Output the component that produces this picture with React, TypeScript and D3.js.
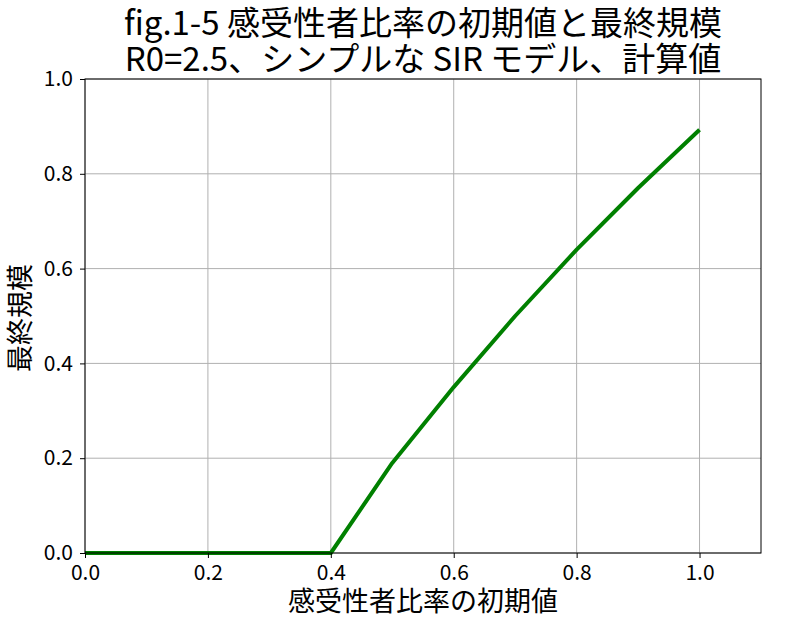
import React, { useEffect, useRef } from 'react';
import * as d3 from 'd3';

// initial susceptible ratio vs final size (R0 = 2.5)
const initialRatio = [0.0, 0.1, 0.2, 0.3, 0.4, 0.5, 0.6, 0.7, 0.8, 0.9, 1.0];
const finalSize = [0.0, 0.0, 0.0, 0.0, 0.0, 0.19, 0.35, 0.5, 0.64, 0.77, 0.893];
const xTicks = [0.0, 0.2, 0.4, 0.6, 0.8, 1.0];
const yTicks = [0.0, 0.2, 0.4, 0.6, 0.8, 1.0];
const titleLines = ['fig.1-5 感受性者比率の初期値と最終規模', 'R0=2.5、シンプルな SIR モデル、計算値'];
const xLabel = '感受性者比率の初期値';
const yLabel = '最終規模';

const FONT = '"Noto Sans CJK JP", "Noto Sans", sans-serif';

const App: React.FC = () => {
  const svgRef = useRef<SVGSVGElement>(null);
  const width = 786;
  const height = 625;
  const margin = { top: 79, right: 25, bottom: 72, left: 85 };
  const chartWidth = width - margin.left - margin.right;
  const chartHeight = height - margin.top - margin.bottom;

  useEffect(() => {
    if (!svgRef.current) return;
    const svg = d3.select(svgRef.current);
    svg.selectAll('*').remove();

    const g = svg.append('g').attr('transform', `translate(${margin.left},${margin.top})`);

    const xScale = d3.scaleLinear().domain([0, 1.1]).range([0, chartWidth]);
    const yScale = d3.scaleLinear().domain([0, 1]).range([chartHeight, 0]);

    // grid
    g.append('g')
      .selectAll('line')
      .data(xTicks)
      .enter()
      .append('line')
      .attr('x1', d => xScale(d))
      .attr('x2', d => xScale(d))
      .attr('y1', 0)
      .attr('y2', chartHeight)
      .attr('stroke', '#b0b0b0')
      .attr('stroke-width', 1);

    g.append('g')
      .selectAll('line')
      .data(yTicks)
      .enter()
      .append('line')
      .attr('x1', 0)
      .attr('x2', chartWidth)
      .attr('y1', d => yScale(d))
      .attr('y2', d => yScale(d))
      .attr('stroke', '#b0b0b0')
      .attr('stroke-width', 1);

    // line
    const data = initialRatio.map((x, i) => ({ x, y: finalSize[i] }));
    const line = d3
      .line<{ x: number; y: number }>()
      .x(d => xScale(d.x))
      .y(d => yScale(d.y));

    g.append('path')
      .datum(data)
      .attr('fill', 'none')
      .attr('stroke', 'green')
      .attr('stroke-width', 4)
      .attr('stroke-linejoin', 'round')
      .attr('d', line);

    // axes
    const xAxis = g
      .append('g')
      .attr('transform', `translate(0,${chartHeight})`)
      .call(
        d3.axisBottom(xScale)
          .tickValues(xTicks)
          .tickSize(5)
          .tickSizeOuter(0)
          .tickFormat(d => (d as number).toFixed(1))
      );
    xAxis.select('.domain').remove();
    xAxis.selectAll('text')
      .style('font-family', FONT)
      .style('font-size', '21px')
      .attr('fill', '#000')
      .attr('dy', '0.92em');

    const yAxis = g
      .append('g')
      .call(
        d3.axisLeft(yScale)
          .tickValues(yTicks)
          .tickSize(5)
          .tickPadding(7)
          .tickSizeOuter(0)
          .tickFormat(d => (d as number).toFixed(1))
      );
    yAxis.select('.domain').remove();
    yAxis.selectAll('text')
      .style('font-family', FONT)
      .style('font-size', '21px')
      .attr('fill', '#000');

    // frame
    g.append('rect')
      .attr('x', 0)
      .attr('y', 0)
      .attr('width', chartWidth)
      .attr('height', chartHeight)
      .attr('fill', 'none')
      .attr('stroke', '#000')
      .attr('stroke-width', 1);

    // axis labels
    svg.append('text')
      .attr('x', margin.left + chartWidth / 2)
      .attr('y', 611)
      .attr('text-anchor', 'middle')
      .style('font-family', FONT)
      .style('font-size', '27px')
      .text(xLabel);

    svg.append('text')
      .attr('transform', `translate(30,${margin.top + chartHeight / 2 + 2}) rotate(-90)`)
      .attr('text-anchor', 'middle')
      .style('font-family', FONT)
      .style('font-size', '27px')
      .text(yLabel);

    // title
    svg.append('g')
      .selectAll('text')
      .data(titleLines)
      .enter()
      .append('text')
      .attr('x', margin.left + chartWidth / 2)
      .attr('y', (_, i) => 35 + i * 36)
      .attr('text-anchor', 'middle')
      .style('font-family', FONT)
      .style('font-size', '33px')
      .text(d => d);
  }, []);

  return (
    <svg
      ref={svgRef}
      width={width}
      height={height}
      style={{ position: 'absolute', left: 0, top: 0, background: '#fff' }}
    />
  );
};

export default App;
